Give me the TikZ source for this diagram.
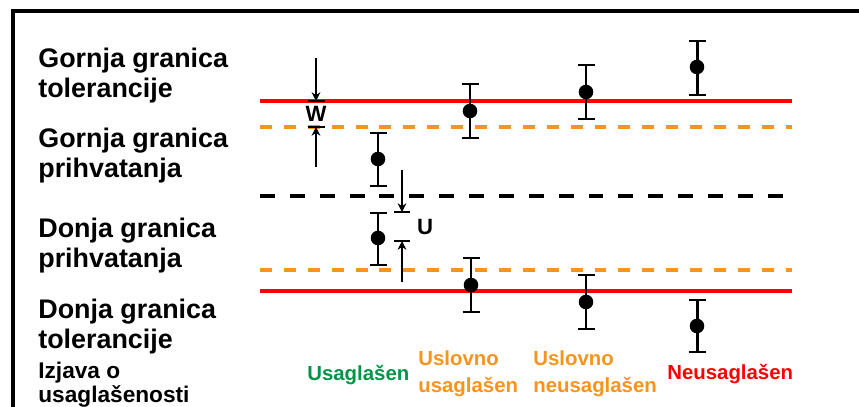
\documentclass[tikz,border=0pt]{standalone}
\usepackage{fontspec}
\setmainfont{Liberation Sans}
\usetikzlibrary{arrows.meta}
\definecolor{granorange}{RGB}{247,148,30}
\definecolor{okgreen}{RGB}{0,150,70}
\definecolor{limitred}{RGB}{255,0,0}
\newcommand{\lblfont}{\fontsize{15.3}{17}\selectfont\bfseries}
\newcommand{\notefont}{\fontsize{12.9}{13.6}\selectfont\bfseries}
\newcommand{\catfont}{\fontsize{11.6}{15.3}\selectfont\bfseries}
\newcommand{\dimfont}{\fontsize{12.6}{14}\selectfont\bfseries}
\begin{document}
\begin{tikzpicture}[x=0.02cm,y=-0.02cm,
  limit/.style={limitred,line width=2.1pt},
  accept/.style={granorange,line width=2.1pt,dash pattern=on 6.8pt off 6.8pt},
  middle/.style={black,line width=2.2pt,dash pattern=on 8.5pt off 8.5pt},
  bar/.style={line width=1.7pt},
  dot/.style={circle,fill=black,inner sep=0pt,minimum size=8.3pt},
  lbl/.style={anchor=base west,align=left,inner sep=0pt},
  dim/.style={line width=0.7pt,-{Stealth[length=5pt,width=5pt]}},
  tickmark/.style={line width=1.3pt}]
\clip (0,0) rectangle (859,406);
\draw[line width=2.4pt] (13,430) -- (13,11) -- (880,11);
% granice
\draw[limit] (260,101) -- (792,101);
\draw[accept] (260,127) -- (792,127);
\draw[middle] (260,196) -- (792,196);
\draw[accept] (260,270) -- (792,270);
\draw[limit] (260,291) -- (792,291);
% rezultati mjerenja
\foreach \n/\x/\t/\m/\b in {1/378/133/159/186,2/378/213/238/265,3/470/84/111/138,4/586/65/92/119,
  5/697/41/67/95,6/471/258/285/312,7/586/275/302/329,8/697/300/326/352}{
  \coordinate (m\n top) at (\x,\t);
  \coordinate (m\n bot) at (\x,\b);
  \draw[bar] (m\n top) -- (m\n bot);
  \draw[bar] (m\n top) ++(-8.5,0) -- ++(17,0);
  \draw[bar] (m\n bot) ++(-8.5,0) -- ++(17,0);
  \node[dot] (m\n) at (\x,\m) {};
}
% W i U
\coordinate (w1) at (316,58);
\coordinate (w2) at (316,101);
\coordinate (w3) at (316,127);
\coordinate (w4) at (316,167);
\draw[dim] (w1) -- (w2);
\draw[dim] (w4) -- (w3);
\draw[tickmark] (w2) ++(-8.5,0) -- ++(17,0);
\draw[tickmark] (w3) ++(-8.5,0) -- ++(17,0);
\node[font=\dimfont,inner sep=0pt] (wlbl) at (316,114) {W};
\coordinate (u1) at (402,170);
\coordinate (u2) at (402,212);
\coordinate (u3) at (402,241);
\coordinate (u4) at (402,282);
\draw[dim] (u1) -- (u2);
\draw[dim] (u4) -- (u3);
\draw[tickmark] (u2) ++(-8,0) -- ++(16,0);
\draw[tickmark] (u3) ++(-8,0) -- ++(16,0);
\node[font=\dimfont,inner sep=0pt] (ulbl) at (425,227) {U};
% natpisi
\node[lbl,font=\lblfont] (ggt) at (38,97) {Gornja granica\\tolerancije};
\node[lbl,font=\lblfont] (ggp) at (38,177) {Gornja granica\\prihvatanja};
\node[lbl,font=\lblfont] (dgp) at (38,267) {Donja granica\\prihvatanja};
\node[lbl,font=\lblfont] (dgt) at (38,348) {Donja granica\\tolerancije};
\node[lbl,font=\notefont] (izj) at (38,402) {Izjava o\\usaglašenosti};
\node[lbl,font=\catfont,okgreen] (usg) at (307,380) {Usaglašen};
\node[lbl,font=\catfont,granorange] (uusg) at (418,392) {Uslovno\\usaglašen};
\node[lbl,font=\catfont,granorange] (uneu) at (533,392) {Uslovno\\neusaglašen};
\node[lbl,font=\catfont,limitred] (neu) at (667,379) {Neusaglašen};
\end{tikzpicture}
\end{document}
